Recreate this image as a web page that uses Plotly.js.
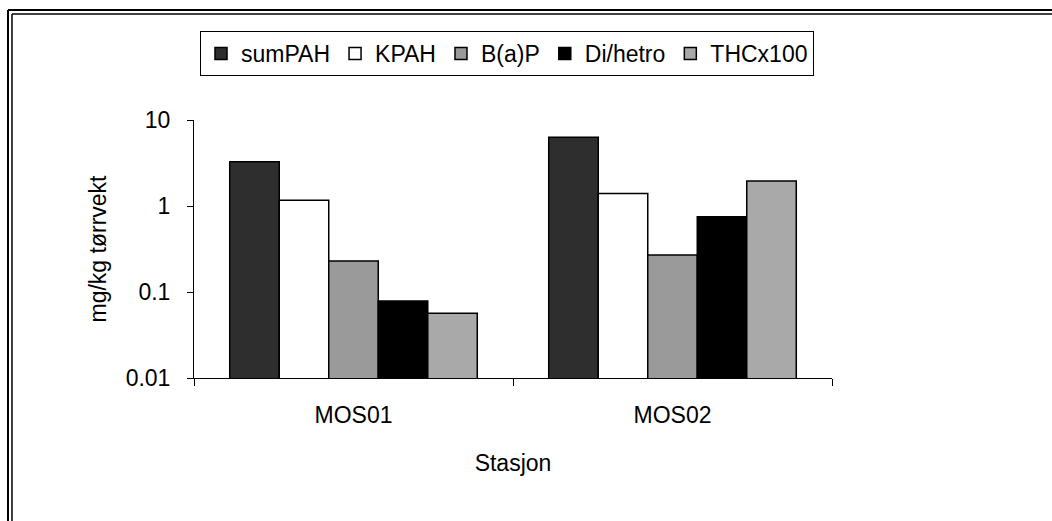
<!DOCTYPE html>
<html>
<head>
<meta charset="utf-8">
<script src="https://cdn.plot.ly/plotly-3.0.1.min.js"></script>
<style>
html,body{margin:0;padding:0;background:#fff;}
#chart{width:1052px;height:521px;}
</style>
</head>
<body>
<div id="chart"></div>
<script>
const stations = ["MOS01", "MOS02"];
const seriesNames = ["sumPAH", "KPAH", "B(a)P", "Di/hetro", "THCx100"];
const sumPAH = [3.27, 6.3];
const KPAH = [1.17, 1.40];
const BaP = [0.229, 0.269];
const DiHetro = [0.0785, 0.75];
const THCx100 = [0.0565, 1.95];
const yTickVals = [0.01, 0.1, 1, 10];
const yTickText = ["0.01", "0.1", "1", "10"];

const seriesValues = [sumPAH, KPAH, BaP, DiHetro, THCx100];
const fills = ["#2e2e2e", "#ffffff", "#9a9a9a", "#000000", "#a9a9a9"];

const FONT = "Liberation Sans, Arial, Helvetica, sans-serif";
const FS = 23;

const traces = seriesNames.map((n, i) => ({
  type: "bar",
  name: n,
  x: stations,
  y: seriesValues[i],
  marker: {color: fills[i], line: {color: "#000", width: 1.5}},
  hoverinfo: "skip"
}));

// plot area px: x 194..832, y 120..378
const L = 194, R = 832, T = 120, B = 378;
const px = v => (v - L) / (R - L);
const py = v => (B - v) / (B - T);

const frame = [
  {x0: px(8), x1: px(1060), y0: py(10), y1: py(10), w: 2},
  {x0: px(12), x1: px(1060), y0: py(14), y1: py(14), w: 1.5},
  {x0: px(8), x1: px(8), y0: py(10), y1: py(530), w: 2},
  {x0: px(12), x1: px(12), y0: py(14), y1: py(530), w: 1.5}
].map(s => ({type: "line", xref: "paper", yref: "paper", x0: s.x0, x1: s.x1, y0: s.y0, y1: s.y1,
  line: {color: "#000", width: s.w}}));

const layout = {
  width: 1052, height: 521,
  margin: {l: L, r: 1052 - R, t: T, b: 521 - B},
  paper_bgcolor: "#fff", plot_bgcolor: "#fff",
  font: {family: FONT, size: FS, color: "#000"},
  barmode: "group", bargap: 0.224, bargroupgap: 0,
  showlegend: true,
  legend: {
    orientation: "h", x: px(200), y: py(31), xanchor: "left", yanchor: "top",
    bordercolor: "#000", borderwidth: 1, bgcolor: "#fff",
    font: {family: FONT, size: FS, color: "#000"},
    traceorder: "normal"
  },
  xaxis: {
    type: "category", range: [-0.5, 1.5],
    showline: true, linecolor: "#000", linewidth: 1,
    ticks: "outside", tickson: "boundaries", ticklen: 7, tickcolor: "#000",
    ticklabelstandoff: 16,
    showgrid: false, zeroline: false,
    tickfont: {family: FONT, size: FS},
    title: {text: "Stasjon", font: {family: FONT, size: FS}, standoff: 28}
  },
  yaxis: {
    type: "log", range: [-2, 1],
    tickvals: yTickVals, ticktext: yTickText,
    showline: true, linecolor: "#000", linewidth: 1,
    ticks: "outside", ticklen: 6, tickcolor: "#000",
    ticklabelstandoff: 12,
    showgrid: false, zeroline: false,
    tickfont: {family: FONT, size: FS},
    title: {text: "mg/kg tørrvekt", font: {family: FONT, size: FS}, standoff: 12}
  },
  shapes: frame
};

Plotly.newPlot("chart", traces, layout, {displayModeBar: false, staticPlot: true});
</script>
</body>
</html>
